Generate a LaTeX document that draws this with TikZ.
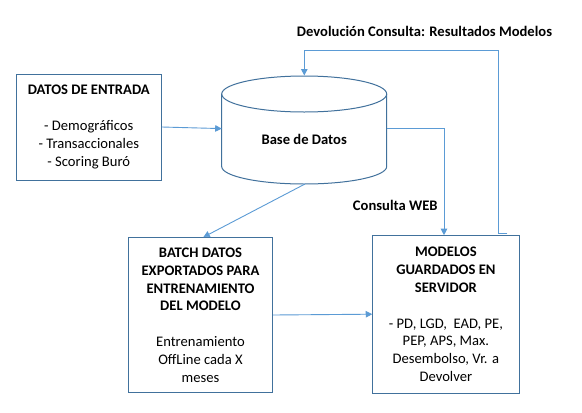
\documentclass[tikz,border=0pt]{standalone}
\usepackage{fontspec}
\setmainfont{Carlito}
\usetikzlibrary{arrows.meta}
\definecolor{boxblue}{RGB}{65,113,156}
\definecolor{lineblue}{RGB}{91,155,213}
\tikzset{
  box/.style={draw=boxblue, line width=1pt, align=center, inner sep=2pt,
    font=\fontsize{14.6}{17.8}\selectfont},
  conn/.style={draw=lineblue, line width=0.9pt, -{Triangle[length=6.5pt,width=6.5pt]}},
  plainline/.style={draw=lineblue, line width=0.9pt},
  lbl/.style={font=\fontsize{14.6}{17.8}\selectfont\bfseries, inner sep=0pt}
}
\begin{document}
\begin{tikzpicture}[x=1pt,y=1pt]
\useasboundingbox (0,0) rectangle (582,-413);
\fill[white] (0,0) rectangle (582,-413);

% boxes
\node[box, minimum width=145pt, minimum height=106pt] (datos) at (88.8,-127)
  {\textbf{DATOS DE ENTRADA}\\ ~\\ - Demográficos\\ - Transaccionales\\ - Scoring Buró};
\node[box, minimum width=144.4pt, minimum height=154.6pt] (batch) at (200.5,-315)
  {\textbf{BATCH DATOS}\\ \textbf{EXPORTADOS PARA}\\ \textbf{ENTRENAMIENTO}\\ \textbf{DEL MODELO}\\ ~\\ Entrenamiento\\ OffLine cada X\\ meses};
\node[box, minimum width=146.3pt, minimum height=157.6pt] (modelos) at (445.9,-314.5)
  {\textbf{MODELOS}\\ \textbf{GUARDADOS EN}\\ \textbf{SERVIDOR}\\ ~\\ - PD, LGD,~ EAD, PE,\\ PEP, APS, Max.\\ Desembolso, Vr. a\\ Devolver};

% cylinder
\draw[draw=boxblue, line width=1pt] (221.7,-94) -- (221.7,-166.5)
  arc[start angle=180, end angle=360, x radius=82.5, y radius=17.5] -- (386.7,-94);
\draw[draw=boxblue, line width=1pt] (304.2,-94) ellipse[x radius=82.5, y radius=18];
\node[lbl] (db) at (304.2,-139) {Base de Datos};
\coordinate (dbW) at (221.7,-128.6);
\coordinate (dbE) at (386.7,-128.3);
\coordinate (dbN) at (304.3,-75.5);
\coordinate (dbS) at (305,-184);
\coordinate (fb) at (507.3,-233.3);

% labels
\node[lbl] (devol) at (424.5,-31) {Devolución Consulta: Resultados Modelos};
\node[lbl] (web) at (395.3,-205) {Consulta WEB};

% connectors
\draw[conn] (datos.east) -- (dbW);
\draw[conn] (dbE) -| ([xshift=-1.9pt]modelos.north);
\draw[conn] (dbS) -- ([xshift=2.8pt]batch.north);
\draw[conn] (batch.east) -- ([yshift=0.3pt]modelos.west);
\draw[conn] (fb) -- (498.3,-233.3) -- (498.3,-50.7) -- (304.3,-50.7) -- (dbN);
\end{tikzpicture}
\end{document}
